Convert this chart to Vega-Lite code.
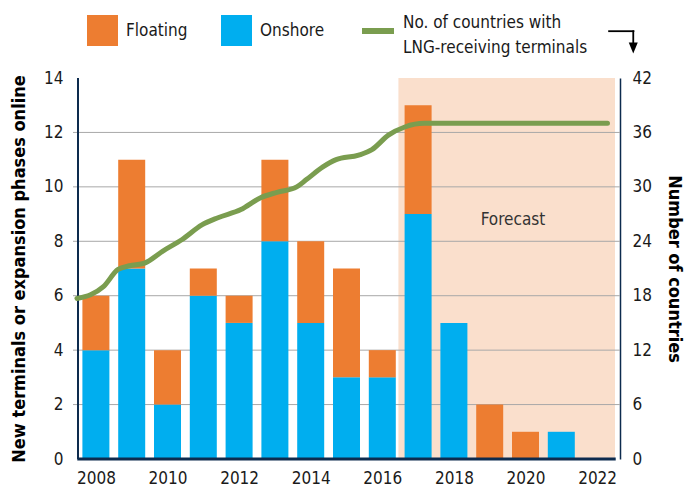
{
  "$schema": "https://vega.github.io/schema/vega-lite/v6.json",
  "width": 547,
  "height": 381,
  "autosize": {"type": "none"},
  "padding": {"left": 73, "top": 78, "right": 66, "bottom": 27},
  "background": "white",
  "config": {
    "view": {"stroke": null},
    "font": "Liberation Sans Narrow, DejaVu Sans Condensed, sans-serif",
    "axis": {
      "labelFont": "Liberation Sans Narrow, DejaVu Sans Condensed, sans-serif",
      "labelFontSize": 17,
      "labelColor": "#1a1a1a",
      "titleFont": "Liberation Sans Narrow, DejaVu Sans Condensed, sans-serif",
      "titleFontSize": 18,
      "titleFontWeight": "bold",
      "titleColor": "#000000",
      "domainColor": "#0d2b4e",
      "ticks": false,
      "tickSize": 0,
      "grid": false,
      "labelPadding": 9,
      "zindex": 1
    },
    "legend": {
      "labelFont": "Liberation Sans Narrow, DejaVu Sans Condensed, sans-serif",
      "labelFontSize": 17,
      "labelColor": "#1a1a1a",
      "titleFont": "Liberation Sans Narrow, DejaVu Sans Condensed, sans-serif"
    }
  },
  "datasets": {
    "bars": [
      {"year": 2008, "type": "Onshore", "value": 4}, {"year": 2008, "type": "Floating", "value": 2},
      {"year": 2009, "type": "Onshore", "value": 7}, {"year": 2009, "type": "Floating", "value": 4},
      {"year": 2010, "type": "Onshore", "value": 2}, {"year": 2010, "type": "Floating", "value": 2},
      {"year": 2011, "type": "Onshore", "value": 6}, {"year": 2011, "type": "Floating", "value": 1},
      {"year": 2012, "type": "Onshore", "value": 5}, {"year": 2012, "type": "Floating", "value": 1},
      {"year": 2013, "type": "Onshore", "value": 8}, {"year": 2013, "type": "Floating", "value": 3},
      {"year": 2014, "type": "Onshore", "value": 5}, {"year": 2014, "type": "Floating", "value": 3},
      {"year": 2015, "type": "Onshore", "value": 3}, {"year": 2015, "type": "Floating", "value": 4},
      {"year": 2016, "type": "Onshore", "value": 3}, {"year": 2016, "type": "Floating", "value": 1},
      {"year": 2017, "type": "Onshore", "value": 9}, {"year": 2017, "type": "Floating", "value": 4},
      {"year": 2018, "type": "Onshore", "value": 5}, {"year": 2018, "type": "Floating", "value": 0},
      {"year": 2019, "type": "Onshore", "value": 0}, {"year": 2019, "type": "Floating", "value": 2},
      {"year": 2020, "type": "Onshore", "value": 0}, {"year": 2020, "type": "Floating", "value": 1},
      {"year": 2021, "type": "Onshore", "value": 1}, {"year": 2021, "type": "Floating", "value": 0}
    ],
    "countries": [
      {"year": 2007.47, "countries": 17.7},
      {"year": 2007.85, "countries": 18.1},
      {"year": 2008.21, "countries": 19.0},
      {"year": 2008.62, "countries": 20.9},
      {"year": 2008.94, "countries": 21.3},
      {"year": 2009.36, "countries": 21.6},
      {"year": 2009.86, "countries": 22.9},
      {"year": 2010.41, "countries": 24.2},
      {"year": 2010.96, "countries": 25.8},
      {"year": 2011.41, "countries": 26.6},
      {"year": 2012.05, "countries": 27.5},
      {"year": 2012.6, "countries": 28.8},
      {"year": 2013.06, "countries": 29.4},
      {"year": 2013.61, "countries": 30.0},
      {"year": 2013.88, "countries": 30.8},
      {"year": 2014.34, "countries": 32.2},
      {"year": 2014.71, "countries": 33.0},
      {"year": 2015.34, "countries": 33.5},
      {"year": 2015.71, "countries": 34.1},
      {"year": 2016.17, "countries": 35.7},
      {"year": 2016.63, "countries": 36.6},
      {"year": 2017.17, "countries": 37.0},
      {"year": 2022.29, "countries": 37.0}
    ],
    "grid": [{"g": 2}, {"g": 4}, {"g": 6}, {"g": 8}, {"g": 10}, {"g": 12}],
    "one": [{}]
  },
  "layer": [
    {
      "layer": [
        {
          "data": {"name": "one"},
          "mark": {"type": "rect", "color": "#fadfcc"},
          "encoding": {
            "x": {"datum": 2016.45, "type": "quantitative", "scale": {"domain": [2007.5, 2022.5], "nice": false, "zero": false},
              "axis": {"values": [2008, 2010, 2012, 2014, 2016, 2018, 2020, 2022], "format": "d", "title": null, "domain": false, "labelPadding": 11}},
            "x2": {"datum": 2022.5},
            "y": {"datum": 0, "type": "quantitative", "scale": {"domain": [0, 14], "nice": false},
              "axis": {"orient": "left", "values": [0, 2, 4, 6, 8, 10, 12, 14], "title": "New terminals or expansion phases online", "domain": false, "labelPadding": 10, "titlePadding": 15}},
            "y2": {"datum": 14}
          }
        },
        {
          "data": {"name": "grid"},
          "mark": {"type": "rule", "color": "#a8a8a8", "strokeWidth": 1},
          "encoding": {
            "y": {"field": "g", "type": "quantitative", "scale": {"domain": [0, 14], "nice": false},
              "axis": {"orient": "left", "values": [0, 2, 4, 6, 8, 10, 12, 14], "title": "New terminals or expansion phases online", "domain": false, "labelPadding": 10, "titlePadding": 15}}
          }
        },
        {
          "data": {"name": "bars"},
          "mark": {"type": "bar", "size": 27},
          "encoding": {
            "x": {
              "field": "year", "type": "quantitative",
              "scale": {"domain": [2007.5, 2022.5], "nice": false, "zero": false},
              "axis": {"values": [2008, 2010, 2012, 2014, 2016, 2018, 2020, 2022], "format": "d", "title": null, "domain": false, "labelPadding": 11}
            },
            "y": {
              "field": "value", "type": "quantitative", "stack": "zero",
              "scale": {"domain": [0, 14], "nice": false},
              "axis": {"orient": "left", "values": [0, 2, 4, 6, 8, 10, 12, 14], "title": "New terminals or expansion phases online", "domain": false, "labelPadding": 10, "titlePadding": 15}
            },
            "color": {
              "field": "type", "type": "nominal",
              "scale": {"domain": ["Floating", "Onshore"], "range": ["#ED7D31", "#00AEEF"]},
              "legend": {
                "orient": "none", "legendX": 14, "legendY": -63, "direction": "horizontal",
                "title": null, "symbolType": "square", "symbolSize": 961, "symbolStrokeWidth": 0,
                "symbolOpacity": 1, "labelOffset": 8, "columnPadding": 33
              }
            },
            "order": {"field": "type", "sort": "descending"}
          }
        },
        {
          "data": {"name": "one"},
          "mark": {"type": "rule", "color": "#0d2b4e", "strokeWidth": 2},
          "encoding": {
            "x": {"datum": 2007.5, "type": "quantitative", "scale": {"domain": [2007.5, 2022.5], "nice": false, "zero": false},
              "axis": {"values": [2008, 2010, 2012, 2014, 2016, 2018, 2020, 2022], "format": "d", "title": null, "domain": false, "labelPadding": 11}},
            "y": {"datum": 0, "type": "quantitative", "scale": {"domain": [0, 14], "nice": false},
              "axis": {"orient": "left", "values": [0, 2, 4, 6, 8, 10, 12, 14], "title": "New terminals or expansion phases online", "domain": false, "labelPadding": 10, "titlePadding": 15}},
            "y2": {"datum": 14}
          }
        },
        {
          "data": {"name": "one"},
          "mark": {"type": "rule", "color": "#0d2b4e", "strokeWidth": 3},
          "encoding": {
            "x": {"datum": 2007.48, "type": "quantitative", "scale": {"domain": [2007.5, 2022.5], "nice": false, "zero": false},
              "axis": {"values": [2008, 2010, 2012, 2014, 2016, 2018, 2020, 2022], "format": "d", "title": null, "domain": false, "labelPadding": 11}},
            "x2": {"datum": 2022.52},
            "y": {"datum": 0, "type": "quantitative", "scale": {"domain": [0, 14], "nice": false},
              "axis": {"orient": "left", "values": [0, 2, 4, 6, 8, 10, 12, 14], "title": "New terminals or expansion phases online", "domain": false, "labelPadding": 10, "titlePadding": 15}}
          }
        },
        {
          "data": {"name": "one"},
          "mark": {"type": "text", "text": "Forecast", "fontSize": 17, "color": "#333333", "font": "Liberation Sans Narrow, DejaVu Sans Condensed, sans-serif"},
          "encoding": {
            "x": {"datum": 2019.65, "type": "quantitative", "scale": {"domain": [2007.5, 2022.5], "nice": false, "zero": false},
              "axis": {"values": [2008, 2010, 2012, 2014, 2016, 2018, 2020, 2022], "format": "d", "title": null, "domain": false, "labelPadding": 11}},
            "y": {"datum": 8.79, "type": "quantitative", "scale": {"domain": [0, 14], "nice": false},
              "axis": {"orient": "left", "values": [0, 2, 4, 6, 8, 10, 12, 14], "title": "New terminals or expansion phases online", "domain": false, "labelPadding": 10, "titlePadding": 15}}
          }
        },
        {
          "data": {"name": "one"},
          "mark": {"type": "rule", "color": "#000000", "strokeWidth": 1.8},
          "encoding": {
            "x": {"datum": 2022.31, "type": "quantitative", "scale": {"domain": [2007.5, 2022.5], "nice": false, "zero": false},
              "axis": {"values": [2008, 2010, 2012, 2014, 2016, 2018, 2020, 2022], "format": "d", "title": null, "domain": false, "labelPadding": 11}},
            "x2": {"datum": 2023.04},
            "y": {"datum": 15.72, "type": "quantitative", "scale": {"domain": [0, 14], "nice": false},
              "axis": {"orient": "left", "values": [0, 2, 4, 6, 8, 10, 12, 14], "title": "New terminals or expansion phases online", "domain": false, "labelPadding": 10, "titlePadding": 15}}
          }
        },
        {
          "data": {"name": "one"},
          "mark": {"type": "rule", "color": "#000000", "strokeWidth": 1.8},
          "encoding": {
            "x": {"datum": 2023.01, "type": "quantitative", "scale": {"domain": [2007.5, 2022.5], "nice": false, "zero": false},
              "axis": {"values": [2008, 2010, 2012, 2014, 2016, 2018, 2020, 2022], "format": "d", "title": null, "domain": false, "labelPadding": 11}},
            "y": {"datum": 15.75, "type": "quantitative", "scale": {"domain": [0, 14], "nice": false},
              "axis": {"orient": "left", "values": [0, 2, 4, 6, 8, 10, 12, 14], "title": "New terminals or expansion phases online", "domain": false, "labelPadding": 10, "titlePadding": 15}},
            "y2": {"datum": 15.25}
          }
        },
        {
          "data": {"name": "one"},
          "mark": {"type": "point", "shape": "M-0.82,-1L0.82,-1L0,1Z", "filled": true, "color": "#000000", "size": 121, "opacity": 1},
          "encoding": {
            "x": {"datum": 2023.01, "type": "quantitative", "scale": {"domain": [2007.5, 2022.5], "nice": false, "zero": false},
              "axis": {"values": [2008, 2010, 2012, 2014, 2016, 2018, 2020, 2022], "format": "d", "title": null, "domain": false, "labelPadding": 11}},
            "y": {"datum": 15.1, "type": "quantitative", "scale": {"domain": [0, 14], "nice": false},
              "axis": {"orient": "left", "values": [0, 2, 4, 6, 8, 10, 12, 14], "title": "New terminals or expansion phases online", "domain": false, "labelPadding": 10, "titlePadding": 15}}
          }
        }
      ]
    },
    {
      "data": {"name": "countries"},
      "mark": {"type": "line", "interpolate": "monotone", "strokeWidth": 5, "strokeCap": "round"},
      "encoding": {
        "x": {"field": "year", "type": "quantitative", "scale": {"domain": [2007.5, 2022.5], "nice": false, "zero": false},
          "axis": {"values": [2008, 2010, 2012, 2014, 2016, 2018, 2020, 2022], "format": "d", "title": null, "domain": false, "labelPadding": 11}},
        "y": {
          "field": "countries", "type": "quantitative",
          "scale": {"domain": [0, 42], "nice": false},
          "axis": {"orient": "right", "values": [0, 6, 12, 18, 24, 30, 36, 42], "title": "Number of countries", "domainWidth": 1.5, "labelPadding": 12, "titlePadding": 13}
        },
        "stroke": {
          "datum": "countries",
          "scale": {"range": ["#7A9D4F"]},
          "legend": {
            "orient": "none", "legendX": 286, "legendY": -66,
            "title": ["No. of countries with", "LNG-receiving terminals"],
            "titleOrient": "right", "titleFontWeight": "normal", "titleFontSize": 17,
            "titleLineHeight": 25, "titleColor": "#1a1a1a", "titlePadding": -3,
            "titleBaseline": "top", "titleLimit": 300,
            "symbolType": "stroke", "symbolStrokeWidth": 6, "symbolSize": 1024,
            "labelExpr": "''", "labelOffset": 0
          }
        }
      }
    }
  ],
  "resolve": {"scale": {"y": "independent"}}
}
